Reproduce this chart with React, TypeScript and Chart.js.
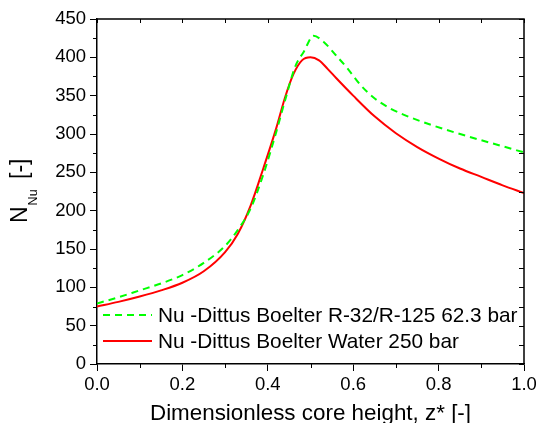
import React, { useEffect, useRef } from 'react';
import { Chart, registerables } from 'chart.js';

Chart.register(...registerables);

// ---- Data ----
const xTickLabels = ['0.0', '0.2', '0.4', '0.6', '0.8', '1.0'];
const yTickLabels = ['0', '50', '100', '150', '200', '250', '300', '350', '400', '450'];

const waterZ = [0, 0.05, 0.1, 0.15, 0.2, 0.25, 0.3, 0.33, 0.36, 0.39, 0.42, 0.44, 0.46, 0.48, 0.5, 0.52, 0.54, 0.56, 0.6, 0.65, 0.7, 0.75, 0.8, 0.85, 0.9, 0.95, 1.0];
const waterNu = [75, 81, 88, 96, 106, 121, 146, 170, 207, 256, 308, 347, 378, 396, 400, 396, 385, 373, 350, 323, 301, 283, 268, 255, 244, 233, 223];

const r32Z = [0, 0.05, 0.1, 0.15, 0.2, 0.25, 0.3, 0.33, 0.36, 0.39, 0.42, 0.44, 0.465, 0.484, 0.507, 0.531, 0.559, 0.586, 0.617, 0.649, 0.688, 0.719, 0.782, 0.844, 0.899, 0.95, 1.0];
const r32Nu = [79, 87, 96, 105, 116, 132, 154, 175, 203, 248, 303, 343, 389, 407, 428, 420, 403, 386, 364, 347, 333, 325, 312, 301, 292, 284, 276];

const legendLabels = ['Nu -Dittus Boelter R-32/R-125 62.3 bar', 'Nu -Dittus Boelter Water 250 bar'];
const xTitle = 'Dimensionless core height, z* [-]';

const FONT = '"Liberation Sans", Arial, sans-serif';
const GREEN = '#00ff00';
const RED = '#ff0000';

const framePlugin = {
  id: 'frameDeco',
  afterDraw(chart: any) {
    const { ctx, chartArea: a, scales } = chart;
    const xs = scales.x;
    const ys = scales.y;
    ctx.save();
    ctx.strokeStyle = '#000';
    ctx.lineWidth = 1.5;
    ctx.beginPath();
    ctx.moveTo(a.left, a.top);
    ctx.lineTo(a.right, a.top);
    ctx.lineTo(a.right, a.bottom);
    ctx.stroke();

    ctx.lineWidth = 1;
    ctx.beginPath();
    for (let i = 0; i <= 10; i++) {
      const px = Math.round(xs.getPixelForValue(i / 10)) + 0.5;
      ctx.moveTo(px, a.top);
      ctx.lineTo(px, a.top + 4);
      if (i % 2 === 1) {
        ctx.moveTo(px, a.bottom);
        ctx.lineTo(px, a.bottom + 4);
      }
    }
    for (let i = 0; i <= 18; i++) {
      const py = Math.round(ys.getPixelForValue(i * 25)) + 0.5;
      ctx.moveTo(a.right, py);
      ctx.lineTo(a.right - 5, py);
      if (i % 2 === 1) {
        ctx.moveTo(a.left, py);
        ctx.lineTo(a.left - 4, py);
      }
    }
    ctx.stroke();

    // Legend
    const items = [
      { color: GREEN, dash: [7, 5], lineY: 315, textY: 322 },
      { color: RED, dash: [], lineY: 341, textY: 348 },
    ];
    items.forEach((it, i) => {
      ctx.strokeStyle = it.color;
      ctx.lineWidth = 2;
      ctx.setLineDash(it.dash);
      ctx.beginPath();
      ctx.moveTo(103, it.lineY);
      ctx.lineTo(152, it.lineY);
      ctx.stroke();
      ctx.setLineDash([]);
      ctx.fillStyle = '#000';
      ctx.font = `20.8px ${FONT}`;
      ctx.textAlign = 'left';
      ctx.textBaseline = 'alphabetic';
      ctx.fillText(legendLabels[i], 158, it.textY);
    });

    // X title
    ctx.fillStyle = '#000';
    ctx.font = `22.4px ${FONT}`;
    ctx.textAlign = 'center';
    ctx.textBaseline = 'alphabetic';
    ctx.fillText(xTitle, (a.left + a.right) / 2, 420);

    // Y title with subscript
    ctx.save();
    ctx.translate(27, 223);
    ctx.rotate(-Math.PI / 2);
    ctx.textAlign = 'left';
    ctx.font = `23px ${FONT}`;
    ctx.fillText('N', 0, 0);
    const nW = ctx.measureText('N').width;
    ctx.font = `12.5px ${FONT}`;
    ctx.fillText('Nu', nW + 1, 10);
    ctx.font = `23px ${FONT}`;
    ctx.fillText('[-]', 44, 0);
    ctx.restore();

    ctx.restore();
  },
};

export default function App() {
  const ref = useRef<HTMLCanvasElement | null>(null);
  useEffect(() => {
    if (!ref.current) return;
    const chart = new Chart(ref.current, {
      type: 'line',
      data: {
        datasets: [
          {
            label: legendLabels[0],
            data: r32Z.map((z, i) => ({ x: z, y: r32Nu[i] })),
            borderColor: GREEN,
            borderWidth: 2,
            borderDash: [7, 5],
            pointRadius: 0,
            cubicInterpolationMode: 'monotone',
            fill: false,
          },
          {
            label: legendLabels[1],
            data: waterZ.map((z, i) => ({ x: z, y: waterNu[i] })),
            borderColor: RED,
            borderWidth: 2,
            pointRadius: 0,
            cubicInterpolationMode: 'monotone',
            fill: false,
          },
        ],
      },
      options: {
        responsive: false,
        animation: false,
        devicePixelRatio: 1,
        layout: { padding: { top: 19, right: 12, left: 0, bottom: 0 } },
        plugins: { legend: { display: false }, tooltip: { enabled: false } },
        scales: {
          x: {
            type: 'linear',
            min: 0,
            max: 1,
            afterFit: (s: any) => {
              s.height = 59;
              s.paddingLeft = 0;
              s.paddingRight = 0;
            },
            afterBuildTicks: (s: any) => {
              s.ticks = xTickLabels.map((t) => ({ value: parseFloat(t) }));
            },
            ticks: {
              color: '#000',
              font: { family: FONT, size: 18.5 },
              padding: 3,
              maxRotation: 0,
              callback: (v: any) => Number(v).toFixed(1),
            },
            grid: { drawOnChartArea: false, drawTicks: true, tickLength: 7, tickColor: '#000', tickWidth: 1 },
            border: { display: true, color: '#000', width: 1.5 },
          },
          y: {
            type: 'linear',
            min: 0,
            max: 450,
            afterFit: (s: any) => {
              s.width = 97;
            },
            afterBuildTicks: (s: any) => {
              s.ticks = yTickLabels.map((t) => ({ value: parseFloat(t) }));
            },
            ticks: {
              color: '#000',
              font: { family: FONT, size: 18.5 },
              padding: 4,
              callback: (v: any) => String(v),
            },
            grid: { drawOnChartArea: false, drawTicks: true, tickLength: 7, tickColor: '#000', tickWidth: 1 },
            border: { display: true, color: '#000', width: 1.5 },
          },
        },
      },
      plugins: [framePlugin],
    } as any);
    return () => chart.destroy();
  }, []);
  return (
    <div style={{ position: 'absolute', left: 0, top: 0, width: 536, height: 423, background: '#fff' }}>
      <canvas ref={ref} width={536} height={423} style={{ width: 536, height: 423, display: 'block' }} />
    </div>
  );
}
